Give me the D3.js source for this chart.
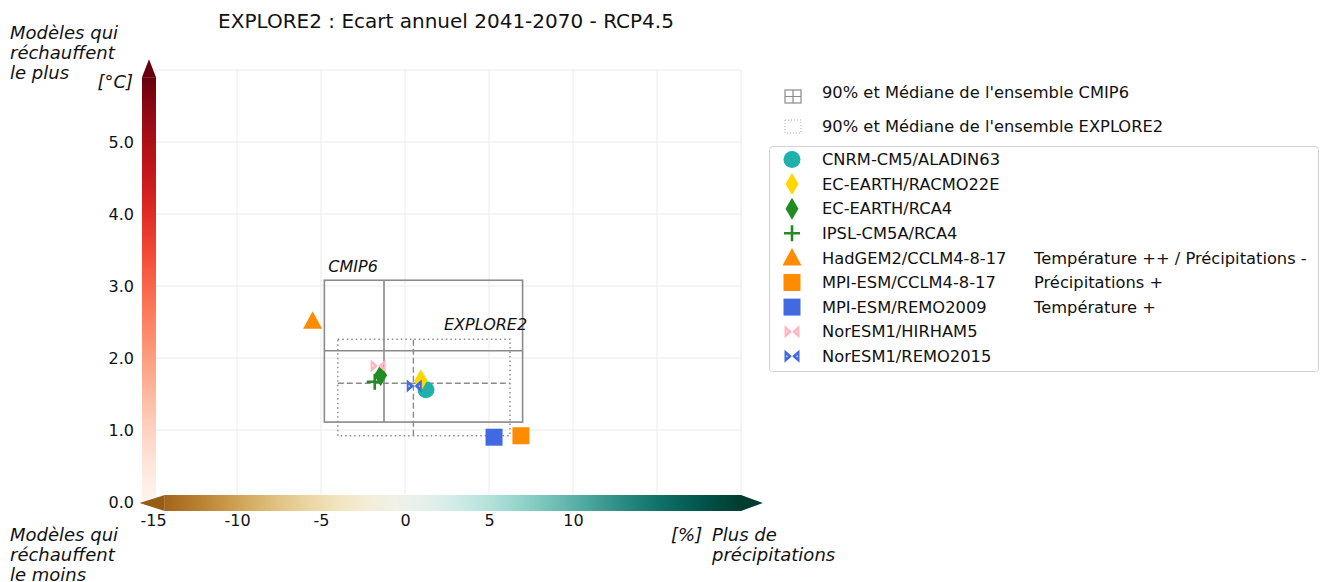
<!DOCTYPE html>
<html>
<head>
<meta charset="utf-8">
<script src="https://cdn.jsdelivr.net/npm/d3@7"></script>
<style>
  body { margin: 0; background: #fff; }
  text { font-family: "DejaVu Sans", sans-serif; fill: #111; }
</style>
</head>
<body>
<script>
'use strict';

// models and their annual change (precip %, temperature °C)
const models = ["CNRM-CM5/ALADIN63", "EC-EARTH/RACMO22E", "EC-EARTH/RCA4", "IPSL-CM5A/RCA4",
  "HadGEM2/CCLM4-8-17", "MPI-ESM/CCLM4-8-17", "MPI-ESM/REMO2009", "NorESM1/HIRHAM5", "NorESM1/REMO2015"];
const precipChange = [1.25, 0.95, -1.45, -1.8, -5.5, 6.9, 5.3, -1.6, 0.55];
const tempChange = [1.56, 1.69, 1.76, 1.67, 2.51, 0.92, 0.90, 1.89, 1.61];
const modelNotes = ["", "", "", "", "Température ++ / Précipitations -", "Précipitations +", "Température +", "", ""];
const modelColors = ["#20b2aa", "#ffd700", "#228b22", "#228b22", "#ff8c00", "#ff8c00", "#4169e1", "#ffb6c1", "#4169e1"];
const modelMarkers = ["circle", "diamond", "diamond", "plus", "triangle", "square", "square", "bowtie", "bowtie"];

// ensemble 5% / median / 95%
const cmip6Precip = [-4.8, -1.25, 7.0];
const cmip6Temp = [1.11, 2.1, 3.08];
const explore2Precip = [-4.0, 0.5, 6.25];
const explore2Temp = [0.92, 1.65, 2.26];

const xTicks = [-15, -10, -5, 0, 5, 10];
const yTicks = [0, 1, 2, 3, 4, 5];
const xGrid = [-15, -10, -5, 0, 5, 10, 15, 20];
const yGrid = [1, 2, 3, 4, 5, 6];

const svg = d3.select('body').append('svg')
  .attr('width', 1321)
  .attr('height', 582);

let x = d3.scaleLinear().domain([-15, 20]).range([153, 741]);
let y = d3.scaleLinear().domain([0, 6]).range([502, 70]);

// grid
svg.append('g').selectAll('line').data(xGrid).enter().append('line')
  .attr('x1', (d) => x(d)).attr('x2', (d) => x(d))
  .attr('y1', y(0)).attr('y2', y(6))
  .attr('stroke', '#ebebeb').attr('stroke-width', 1);
svg.append('g').selectAll('line').data(yGrid).enter().append('line')
  .attr('x1', x(-15)).attr('x2', x(20))
  .attr('y1', (d) => y(d)).attr('y2', (d) => y(d))
  .attr('stroke', '#ebebeb').attr('stroke-width', 1);

// colour bars
let defs = svg.append('defs');
let gradV = defs.append('linearGradient').attr('id', 'reds')
  .attr('x1', 0).attr('y1', 1).attr('x2', 0).attr('y2', 0);
d3.range(0, 1.0001, 0.05).forEach((t) => {
  gradV.append('stop').attr('offset', t).attr('stop-color', d3.interpolateReds(t));
});
let vTop = y(5.9), vTip = y(6.15);
svg.append('rect')
  .attr('x', 142).attr('width', 14)
  .attr('y', vTop).attr('height', y(0) - vTop)
  .attr('fill', 'url(#reds)');
svg.append('path')
  .attr('d', 'M142,' + vTop + 'L149,' + vTip + 'L156,' + vTop + 'Z')
  .attr('fill', d3.interpolateReds(1));

let hLeft = -14.3, hRight = 20.0;
let gradH = defs.append('linearGradient').attr('id', 'brbg')
  .attr('x1', 0).attr('y1', 0).attr('x2', 1).attr('y2', 0);
d3.range(0, 1.0001, 0.05).forEach((f) => {
  let v = hLeft + f * (hRight - hLeft);
  gradH.append('stop').attr('offset', f).attr('stop-color', d3.interpolateBrBG(0.5 + v / 40));
});
svg.append('rect')
  .attr('x', x(hLeft)).attr('width', x(hRight) - x(hLeft))
  .attr('y', 495).attr('height', 16)
  .attr('fill', 'url(#brbg)');
svg.append('path')
  .attr('d', 'M' + x(hLeft) + ',495L' + x(-15.8) + ',503L' + x(hLeft) + ',511Z')
  .attr('fill', d3.interpolateBrBG(0.12));
svg.append('path')
  .attr('d', 'M' + x(hRight) + ',495L' + x(21.3) + ',503L' + x(hRight) + ',511Z')
  .attr('fill', d3.interpolateBrBG(1));

// axes
let yAxis = d3.axisLeft(y).tickValues(yTicks).tickSize(0).tickPadding(8).tickFormat(d3.format('.1f'));
let gy = svg.append('g').attr('transform', 'translate(142,0)').call(yAxis);
let xAxis = d3.axisBottom(x).tickValues(xTicks).tickSize(0).tickPadding(4).tickFormat((d) => d);
let gx = svg.append('g').attr('transform', 'translate(0,511)').call(xAxis);
[gx, gy].forEach((g) => {
  g.select('.domain').remove();
  g.selectAll('text').style('font-size', '16px').style('font-family', '"DejaVu Sans", sans-serif').attr('fill', '#111');
});

// ensemble boxes
function drawBox(px, ty, stroke, outerDash, medDash, width) {
  svg.append('rect')
    .attr('x', x(px[0])).attr('y', y(ty[2]))
    .attr('width', x(px[2]) - x(px[0])).attr('height', y(ty[0]) - y(ty[2]))
    .attr('fill', 'none').attr('stroke', stroke).attr('stroke-width', width)
    .attr('stroke-dasharray', outerDash);
  svg.append('line')
    .attr('x1', x(px[1])).attr('x2', x(px[1])).attr('y1', y(ty[0])).attr('y2', y(ty[2]))
    .attr('stroke', stroke).attr('stroke-width', width).attr('stroke-dasharray', medDash);
  svg.append('line')
    .attr('x1', x(px[0])).attr('x2', x(px[2])).attr('y1', y(ty[1])).attr('y2', y(ty[1]))
    .attr('stroke', stroke).attr('stroke-width', width).attr('stroke-dasharray', medDash);
}
drawBox(cmip6Precip, cmip6Temp, '#8a8a8a', null, null, 1.6);
drawBox(explore2Precip, explore2Temp, '#8a8a8a', '1.5,3', '6,3', 1.4);

svg.append('text')
  .attr('x', x(cmip6Precip[0]) + 4).attr('y', y(cmip6Temp[2]) - 8)
  .style('font-size', '16px').style('font-style', 'italic')
  .text('CMIP6');
svg.append('text')
  .attr('x', x(explore2Precip[2]) - 66).attr('y', y(explore2Temp[2]) - 9)
  .style('font-size', '16px').style('font-style', 'italic')
  .text('EXPLORE2');

// marker shapes
function markerPath(type) {
  switch (type) {
    case 'circle': return d3.symbol(d3.symbolCircle, Math.PI * 8.5 * 8.5)();
    case 'square': return 'M-8.5,-8.5H8.5V8.5H-8.5Z';
    case 'triangle': return 'M0,-10L9.5,7.5H-9.5Z';
    case 'diamond': return 'M0,-11L6.5,0L0,11L-6.5,0Z';
    case 'plus': return 'M-8,0H8M0,-8V8';
    case 'bowtie': return 'M-7.5,-6.5L0,0L-7.5,6.5Z M-5.6,-1.3L-4.2,0L-5.6,1.3Z M7.5,-6.5L0,0L7.5,6.5Z M5.6,-1.3L4.2,0L5.6,1.3Z M-1,-0.6H1V0.6H-1Z';
  }
}
function styleMarker(sel, i) {
  let isPlus = modelMarkers[i] === 'plus';
  sel.attr('d', markerPath(modelMarkers[i]))
    .attr('fill', isPlus ? 'none' : modelColors[i])
    .attr('fill-rule', 'evenodd')
    .attr('stroke', isPlus ? modelColors[i] : 'none')
    .attr('stroke-width', isPlus ? 2.6 : 0);
}

// points
models.forEach((m, i) => {
  svg.append('path')
    .attr('transform', 'translate(' + x(precipChange[i]) + ',' + y(tempChange[i]) + ')')
    .call(styleMarker, i);
});

// title
svg.append('text')
  .attr('x', 446).attr('y', 28)
  .attr('text-anchor', 'middle')
  .style('font-size', '20px')
  .text('EXPLORE2 : Ecart annuel 2041-2070 - RCP4.5');

// corner labels
function multiLine(lines, x0, y0, dy) {
  let t = svg.append('text').attr('x', x0).attr('y', y0)
    .style('font-size', '18px').style('font-style', 'italic');
  lines.forEach((l, i) => {
    t.append('tspan').attr('x', x0).attr('y', y0 + i * dy).text(l);
  });
}
multiLine(['Modèles qui', 'réchauffent', 'le plus'], 10, 39, 20);
multiLine(['Modèles qui', 'réchauffent', 'le moins'], 10, 541, 20);
multiLine(['Plus de', 'précipitations'], 712, 541, 20);
svg.append('text').attr('x', 133).attr('y', 88).attr('text-anchor', 'end')
  .style('font-size', '18px').style('font-style', 'italic').text('[°C]');
svg.append('text').attr('x', 671).attr('y', 541)
  .style('font-size', '18px').style('font-style', 'italic').text('[%]');

// legend
let lg = svg.append('g');
lg.append('rect').attr('x', 785).attr('y', 90).attr('width', 16).attr('height', 13)
  .attr('fill', 'none').attr('stroke', '#8a8a8a').attr('stroke-width', 1.2);
lg.append('path').attr('d', 'M793,90V103M785,96.5H801')
  .attr('stroke', '#8a8a8a').attr('stroke-width', 1.2);
lg.append('rect').attr('x', 785).attr('y', 120).attr('width', 16).attr('height', 13)
  .attr('fill', 'none').attr('stroke', '#aaa').attr('stroke-width', 1).attr('stroke-dasharray', '1,2');
lg.append('text').attr('x', 822).attr('y', 92).attr('dy', '0.35em').style('font-size', '16.3px')
  .text("90% et Médiane de l'ensemble CMIP6");
lg.append('text').attr('x', 822).attr('y', 126).attr('dy', '0.35em').style('font-size', '16.3px')
  .text("90% et Médiane de l'ensemble EXPLORE2");

lg.append('rect').attr('x', 769.5).attr('y', 146.5).attr('width', 549).attr('height', 225)
  .attr('rx', 3).attr('fill', '#fff').attr('stroke', '#d0d0d0').attr('stroke-width', 1);

let rows = lg.selectAll('.row').data(models).enter().append('g')
  .attr('class', 'row')
  .attr('transform', (d, i) => 'translate(0,' + (159.5 + i * 24.6) + ')');
rows.each(function(d, i) {
  d3.select(this).append('path')
    .attr('transform', 'translate(792,0)')
    .call(styleMarker, i);
});
rows.append('text').attr('x', 822).attr('dy', '0.35em').style('font-size', '16.3px').text((d) => d);
rows.append('text').attr('x', 1034).attr('dy', '0.35em').style('font-size', '16.3px')
  .text((d, i) => modelNotes[i]);
</script>
</body>
</html>
